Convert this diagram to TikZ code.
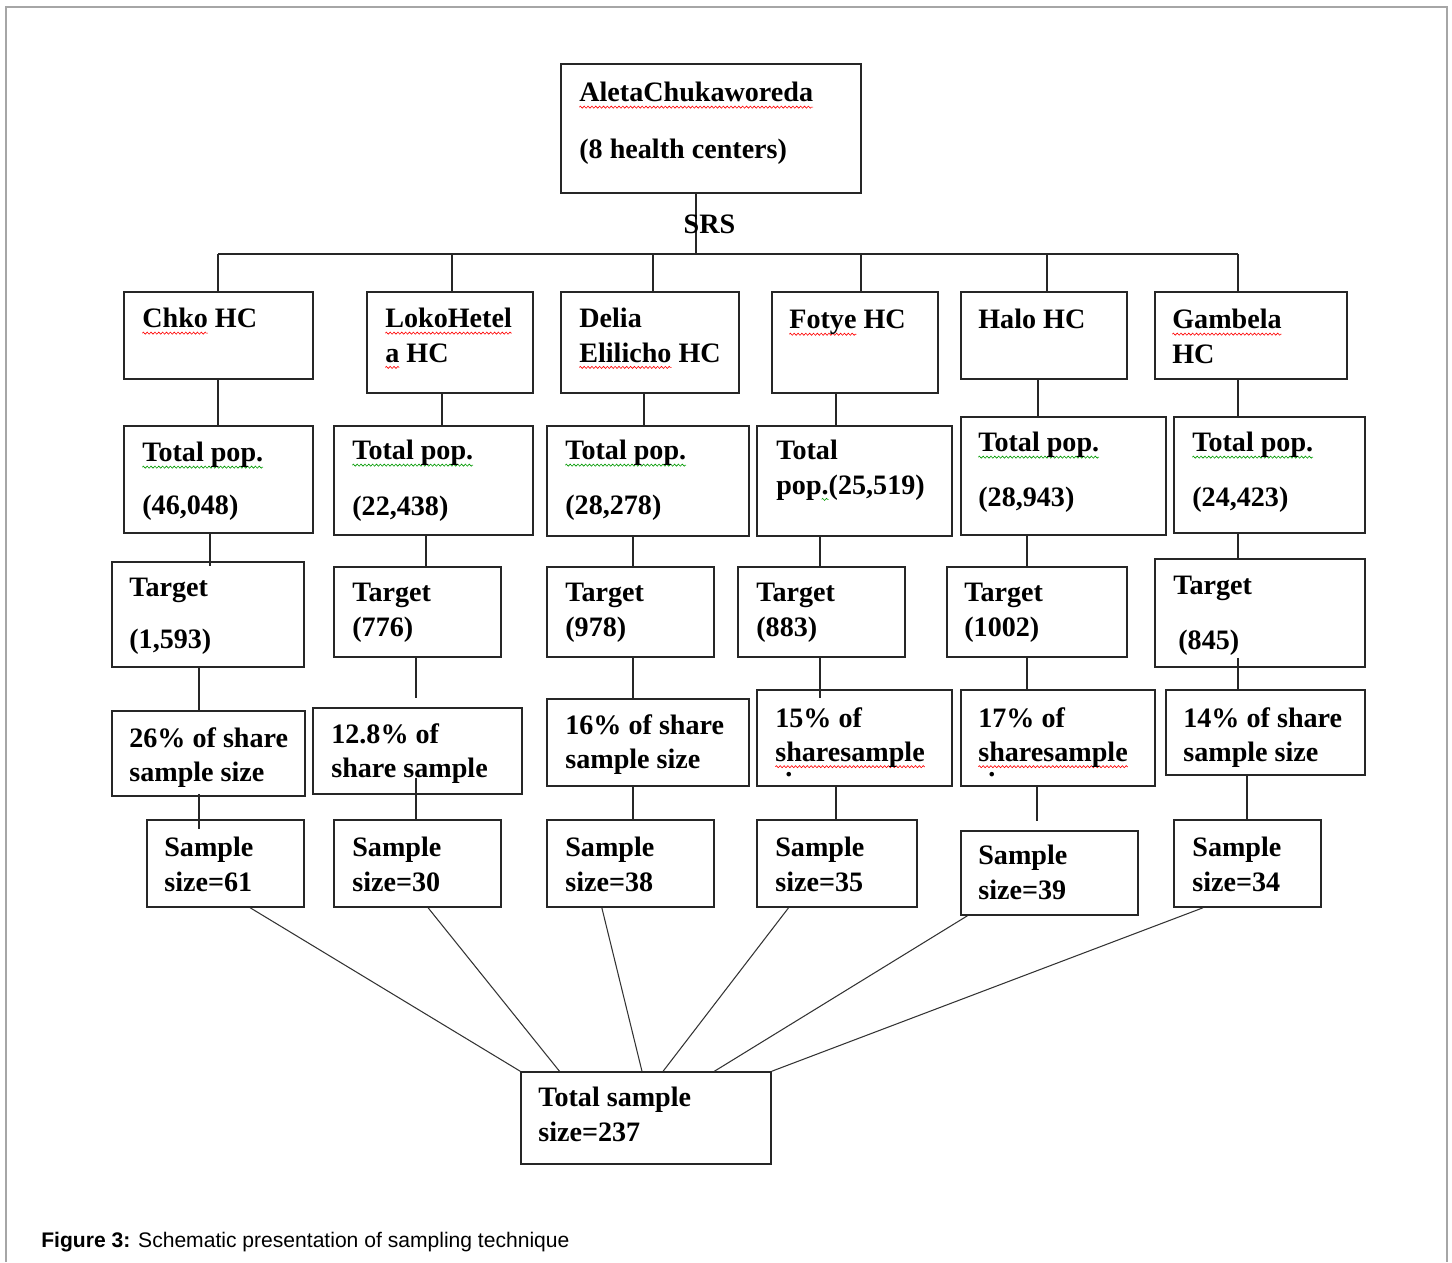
\documentclass[tikz,border=0pt]{standalone}
\usepackage{fontspec}
\setmainfont{Liberation Serif}
\newfontfamily\capfont{Liberation Sans}
\usetikzlibrary{calc,fit,decorations.pathmorphing}
\newlength\wavelen
\newcommand\spellwave[2]{\settowidth\wavelen{#2}%
	\tikz[overlay,baseline=0pt]\draw[#1,line width=0.35pt,decorate,decoration={zigzag,amplitude=0.6pt,segment length=2.2pt}] (0pt,-3pt) -- (\wavelen,-3pt);%
	#2}
\newcommand\redwave[1]{\spellwave{red}{#1}}
\newcommand\greenwave[1]{\spellwave{green!60!black}{#1}}
\begin{document}
\begin{tikzpicture}[x=0.02cm,y=-0.02cm,
		box/.style={draw=black!85,line width=0.9pt,inner sep=0pt},
		txt/.style={anchor=north west,inner sep=0pt,align=left,font=\fontsize{16}{19.5}\selectfont\bfseries},
		link/.style={draw=black!85,line width=0.8pt},
		spoke/.style={draw=black!80,line width=0.6pt}]
	\useasboundingbox (0,0) rectangle (1452,1262);
	% frame
	\draw[gray!70,line width=0.8pt] (6,1262) -- (6,7) -- (1447,7) -- (1447,1262);
	% boxes
	\foreach \n/\xa/\ya/\xb/\yb in {aleta/561/64/861/193,
		chko/124/292/313/379, loko/367/292/533/393, delia/561/292/739/393,
		fotye/772/292/938/393, halo/961/292/1127/379, gambela/1155/292/1347/379,
		pop1/124/426/313/533, pop2/334/426/533/535, pop3/547/426/749/536,
		pop4/757/426/952/536, pop5/961/417/1166/535, pop6/1174/417/1365/533,
		tgt1/112/562/304/667, tgt2/334/567/501/657, tgt3/547/567/714/657,
		tgt4/738/567/905/657, tgt5/947/567/1127/657, tgt6/1155/559/1365/667,
		shr1/112/711/305/796, shr2/313/708/522/794, shr3/547/699/749/786,
		shr4/757/690/952/786, shr5/961/690/1155/786, shr6/1166/690/1365/775,
		smp1/147/820/304/907, smp2/334/820/501/907, smp3/547/820/714/907,
		smp4/757/820/917/907, smp5/961/831/1138/915, smp6/1174/820/1321/907,
		total/521/1072/771/1164}
		\node[box,fit={(\xa,\ya) (\xb,\yb)}] (\n) {};
	% texts
	\node[txt] (aleta-t) at (579,82) {\redwave{AletaChukaworeda}\\[0.45cm](8 health centers)};
	\node[txt] (chko-t) at (142,308) {\redwave{Chko} HC};
	\node[txt] (loko-t) at (385,308) {\redwave{LokoHetel}\\\redwave{a} HC};
	\node[txt] (delia-t) at (579,308) {Delia\\\redwave{Elilicho} HC};
	\node[txt] (fotye-t) at (789,310) {\redwave{Fotye} HC};
	\node[txt] (halo-t) at (978,309) {Halo HC};
	\node[txt] (gambela-t) at (1172,309) {\redwave{Gambela}\\HC};
	\node[txt] (pop1-t) at (142,442) {\greenwave{Total pop.}\\[0.37cm](46,048)};
	\node[txt] (pop2-t) at (352,440) {\greenwave{Total pop.}\\[0.43cm](22,438)};
	\node[txt] (pop3-t) at (565,440) {\greenwave{Total pop.}\\[0.41cm](28,278)};
	\node[txt] (pop4-t) at (776,440) {Total\\pop\greenwave{.}(25,519)};
	\node[txt] (pop5-t) at (978,432) {\greenwave{Total pop.}\\[0.41cm](28,943)};
	\node[txt] (pop6-t) at (1192,432) {\greenwave{Total pop.}\\[0.41cm](24,423)};
	\node[txt] (tgt1-t) at (129,578) {Target\\[0.35cm](1,593)};
	\node[txt] (tgt2-t) at (352,583) {Target\\(776)};
	\node[txt] (tgt3-t) at (565,583) {Target\\(978)};
	\node[txt] (tgt4-t) at (756,583) {Target\\(883)};
	\node[txt] (tgt5-t) at (964,583) {Target\\(1002)};
	\node[txt] (tgt6-t) at (1173,576) {Target\\[0.41cm]\hspace*{0.1cm}(845)};
	\node[txt] (shr1-t) at (129,727) {26\% of share\\sample size};
	\node[txt] (shr2-t) at (331,723) {12.8\% of\\share sample};
	\node[txt] (shr3-t) at (565,714) {16\% of share\\sample size};
	\node[txt] (shr4-t) at (775,707) {15\% of\\\redwave{sharesample}};
	\node[txt] (shr4-d) at (785,772) {.};
	\node[txt] (shr5-t) at (978,707) {17\% of\\\redwave{sharesample}};
	\node[txt] (shr5-d) at (988,772) {.};
	\node[txt] (shr6-t) at (1183,707) {14\% of share\\sample size};
	\node[txt] (smp1-t) at (164,837) {Sample\\size=61};
	\node[txt] (smp2-t) at (352,837) {Sample\\size=30};
	\node[txt] (smp3-t) at (565,837) {Sample\\size=38};
	\node[txt] (smp4-t) at (775,837) {Sample\\size=35};
	\node[txt] (smp5-t) at (978,845) {Sample\\size=39};
	\node[txt] (smp6-t) at (1192,837) {Sample\\size=34};
	\node[txt] (total-t) at (538,1087) {Total sample\\size=237};
	% SRS split
	\coordinate (srs) at (696,254);
	\draw[link] (srs |- aleta.south) -- (srs);
	\node[txt,anchor=base] (srs-t) at (709.5,233) {SRS};
	\foreach \n/\x in {chko/218,loko/452,delia/653,fotye/861,halo/1047,gambela/1238}
		{
			\coordinate (bus-\n) at (\x,254);
			\draw[link] (bus-\n) -- (bus-\n |- \n.north);
		}
	\draw[link] (bus-chko) -- (bus-gambela);
	% columns
	\foreach \a/\b/\x/\s/\e in {chko/pop1/218/0pt/0pt, loko/pop2/442/0pt/0pt,
		delia/pop3/644/0pt/0pt, fotye/pop4/836/0pt/0pt, halo/pop5/1038/0pt/0pt,
		gambela/pop6/1238/0pt/0pt,
		pop1/tgt1/210/0pt/-0.1cm, pop2/tgt2/426/0pt/0pt, pop3/tgt3/633/0pt/0pt,
		pop4/tgt4/820/0pt/0pt, pop5/tgt5/1027/0pt/0pt, pop6/tgt6/1238/0pt/0pt,
		tgt1/shr1/199/0pt/0pt, tgt2/shr2/416/0pt/0.18cm, tgt3/shr3/633/0pt/0pt,
		tgt4/shr4/820/0pt/-0.18cm, tgt5/shr5/1027/0pt/0pt, tgt6/shr6/1238/-0.2cm/0pt,
		shr1/smp1/199/-0.06cm/-0.2cm, shr2/smp2/416/-0.34cm/0pt, shr3/smp3/633/0pt/0pt,
		shr4/smp4/836/0pt/0pt, shr5/smp5/1037/0pt/0.18cm, shr6/smp6/1247/0pt/0pt}
		{
			\coordinate (col) at (\x,0);
			\draw[link,shorten <=\s,shorten >=\e] (col |- \a.south) -- (col |- \b.north);
		}
	% to total
	\foreach \s/\f/\g in {smp1/.656/0, smp2/.563/.156, smp3/.33/.484,
		smp4/.2/.568, smp5/.04/.772, smp6/.2/1}
		\draw[spoke] ($(\s.south west)!\f!(\s.south east)$) -- ($(total.north west)!\g!(total.north east)$);
	% caption
	\node[anchor=base west,inner sep=0pt,font=\capfont\fontsize{12}{14}\selectfont] (caption) at (41,1247)
		{\textbf{Figure 3:} Schematic presentation of sampling technique};
\end{tikzpicture}
\end{document}
